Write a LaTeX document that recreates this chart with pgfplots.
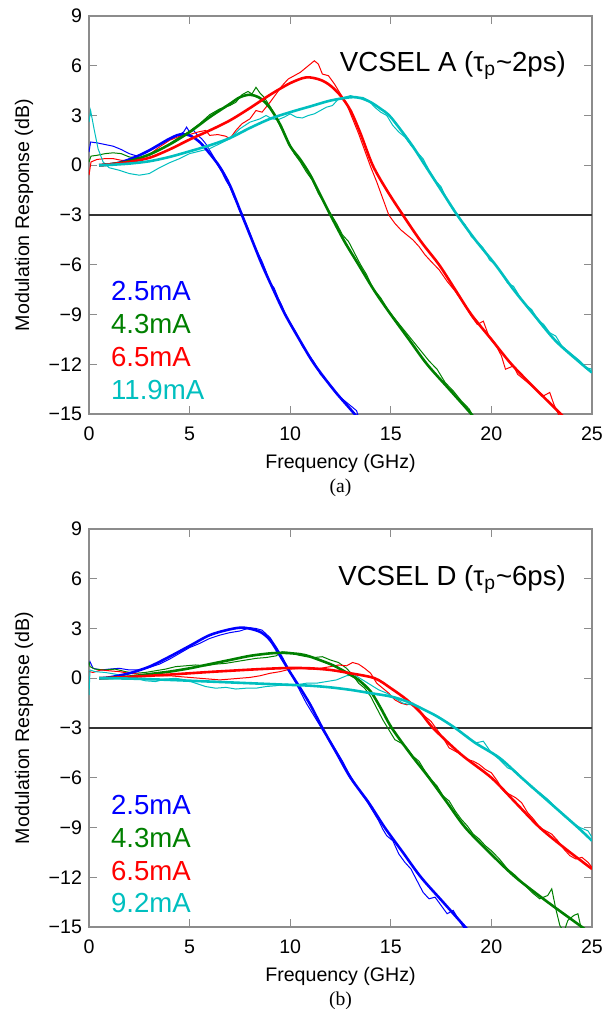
\documentclass[border=0pt]{standalone}
\usepackage{fontspec}
\setmainfont{Liberation Sans}
\newfontfamily\capfont{Liberation Serif}
\usepackage{pgfplots}
\pgfplotsset{compat=1.18}
\definecolor{mblue}{rgb}{0,0,1}
\definecolor{mgreen}{rgb}{0,0.5,0}
\definecolor{mred}{rgb}{1,0,0}
\definecolor{mcyan}{rgb}{0,0.75,0.75}
\tikzset{
  meas/.style={line width=0.5pt},
  fit/.style={line width=1.3pt},
  lab/.style={anchor=base west, inner sep=0pt, font=\fontsize{13.8}{16.5}\selectfont},
}
\pgfplotsset{
  myaxis/.style={
    scale only axis, width=251.5pt, height=199pt, anchor=south west,
    xmin=0, xmax=25, ymin=-15, ymax=9,
    xtick={0,5,10,15,20,25}, xticklabels={0,5,10,15,20,25},
    ytick={-15,-12,-9,-6,-3,0,3,6,9},
    yticklabels={−15,−12,−9,−6,−3,0,3,6,9},
    tick align=inside, tick pos=both,
    major tick length=4pt,
    axis line style={black!45, line width=0.6pt},
    tick style={black!45, line width=0.6pt},
    ticklabel style={font=\fontsize{9.8}{12}\selectfont},
    xticklabel style={yshift=-3pt},
    xlabel={Frequency (GHz)}, ylabel={Modulation Response (dB)},
    label style={font=\fontsize{9.8}{12}\selectfont},
    xlabel style={at={(axis description cs:0.5,-0.123)}, anchor=center},
    ylabel style={at={(axis description cs:-0.129,0.5)}, anchor=center},
    clip mode=individual,
  },
}
\newcommand{\lbl}{\fontsize{13.8}{16.5}\selectfont}
\begin{document}
\begin{tikzpicture}
\useasboundingbox (0,0) rectangle (304pt,504.5pt);
% ---------------- (a) VCSEL A ----------------
\begin{axis}[myaxis, at={(44.5pt,297.5pt)}]
\addplot[black!80, line width=0.6pt] coordinates {(0,-3) (25,-3)};
% measured
\addplot[mblue, meas] coordinates {
(0,0.8)(0.08,1.4)(0.4,1.35)(0.8,1.25)(1.2,1.15)(1.6,0.95)(2.0,0.7)(2.4,0.55)(2.8,0.75)(3.2,1.0)(3.6,1.3)(4.0,1.55)(4.4,1.8)(4.7,2.0)(4.85,2.3)(5.0,2.0)(5.2,2.1)(5.4,1.8)(5.6,1.6)(5.8,1.3)(6.0,0.9)(6.2,0.5)(6.4,0.0)(6.6,-0.4)(6.8,-0.9)(7.0,-1.3)(7.2,-1.9)(7.4,-2.4)(7.6,-2.9)(7.8,-3.5)(8.0,-4.1)(8.2,-4.8)(8.4,-5.3)(8.6,-5.8)(8.8,-6.4)(9.0,-7.1)(9.2,-7.4)(9.4,-8.0)(9.6,-8.5)(9.8,-9.1)(10.0,-9.5)(10.3,-10.1)(10.6,-10.9)(10.9,-11.4)(11.2,-11.9)(11.5,-12.6)(11.8,-13.0)(12.1,-13.4)(12.4,-13.9)(12.7,-14.2)(12.9,-14.4)(13.1,-14.6)(13.3,-14.8)(13.4,-15.2)};
\addplot[mgreen, meas] coordinates {
(0,0.2)(0.1,0.55)(0.4,0.6)(0.8,0.7)(1.2,0.75)(1.6,0.7)(2.0,0.5)(2.5,0.45)(3.0,0.6)(3.5,0.95)(4.0,1.3)(4.5,1.7)(5.0,2.05)(5.5,2.5)(6.0,3.05)(6.5,3.4)(7.0,3.6)(7.3,3.8)(7.6,4.25)(7.9,4.45)(8.1,4.3)(8.3,4.7)(8.5,4.35)(8.7,4.1)(9.0,3.55)(9.3,2.9)(9.6,2.1)(9.9,1.4)(10.2,0.7)(10.5,0.2)(10.8,-0.4)(11.1,-0.9)(11.4,-1.7)(11.7,-2.3)(12.0,-2.9)(12.3,-3.5)(12.6,-4.2)(12.9,-4.6)(13.2,-5.3)(13.5,-6.0)(13.8,-6.6)(14.1,-7.4)(14.5,-8.0)(14.9,-8.8)(15.3,-9.4)(15.7,-10.0)(16.1,-10.6)(16.5,-11.2)(16.9,-11.8)(17.3,-12.3)(17.7,-13.1)(18.1,-13.6)(18.5,-14.2)(18.9,-14.7)(19.1,-15.2)};
\addplot[mred, meas] coordinates {
(0,-0.6)(0.1,0.2)(0.4,0.35)(0.8,0.4)(1.2,0.4)(1.6,0.3)(2.0,0.3)(2.5,0.4)(3.0,0.65)(3.5,1.1)(4.0,1.5)(4.5,1.75)(5.0,1.85)(5.4,2.0)(5.8,2.1)(6.0,1.8)(6.4,1.85)(6.8,1.75)(7.0,1.6)(7.3,2.1)(7.6,2.5)(8.0,2.8)(8.3,3.3)(8.6,3.2)(9.0,3.8)(9.3,4.3)(9.6,4.8)(9.9,5.2)(10.2,5.4)(10.5,5.6)(10.8,5.9)(11.0,6.1)(11.2,6.3)(11.4,6.1)(11.6,5.5)(11.9,5.4)(12.2,4.9)(12.5,4.3)(12.8,3.7)(13.1,2.8)(13.4,1.9)(13.7,0.9)(14.0,-0.1)(14.3,-1.0)(14.6,-2.0)(14.9,-3.0)(15.2,-3.5)(15.5,-3.9)(15.8,-4.2)(16.1,-4.5)(16.4,-4.9)(16.7,-5.4)(17.0,-5.8)(17.4,-6.3)(17.8,-7.0)(18.2,-7.6)(18.6,-8.3)(19.0,-9.1)(19.3,-9.6)(19.6,-9.4)(19.9,-10.4)(20.2,-10.8)(20.5,-11.5)(20.7,-12.3)(20.9,-12.2)(21.1,-12.1)(21.3,-12.6)(21.6,-12.9)(21.9,-13.2)(22.3,-13.6)(22.6,-13.9)(22.9,-13.7)(23.1,-14.4)(23.4,-15.2)};
\addplot[mcyan, meas] coordinates {
(0,2.6)(0.08,3.3)(0.25,2.2)(0.45,1.0)(0.7,0.2)(1.0,-0.15)(1.5,-0.3)(2.0,-0.5)(2.5,-0.6)(3.0,-0.5)(3.5,-0.15)(4.0,0.15)(4.5,0.4)(5.0,0.7)(5.5,0.85)(6.0,1.0)(6.5,1.3)(7.0,1.6)(7.5,2.2)(8.0,2.6)(8.5,2.8)(8.8,3.0)(9.1,2.8)(9.4,2.75)(9.7,2.9)(10.0,3.1)(10.3,2.9)(10.6,2.85)(10.9,3.0)(11.2,3.1)(11.5,3.3)(11.8,3.5)(12.1,3.6)(12.4,4.0)(12.7,4.1)(13.0,4.2)(13.3,4.1)(13.6,4.1)(13.9,3.9)(14.2,3.5)(14.5,3.2)(14.8,3.0)(15.1,2.4)(15.4,2.0)(15.7,1.7)(16.0,1.2)(16.3,0.8)(16.6,0.4)(16.9,-0.3)(17.2,-0.9)(17.5,-1.3)(17.8,-2.1)(18.1,-2.7)(18.4,-3.2)(18.7,-3.6)(19.0,-4.3)(19.3,-4.6)(19.6,-5.0)(19.9,-5.7)(20.2,-6.0)(20.5,-6.5)(20.8,-7.1)(21.1,-7.3)(21.4,-7.9)(21.7,-8.4)(22.0,-8.7)(22.3,-9.3)(22.6,-9.6)(22.9,-10.1)(23.2,-10.3)(23.5,-10.9)(23.8,-11.2)(24.1,-11.5)(24.4,-11.8)(24.7,-12.2)(25.0,-12.3)};
% fits
\addplot[mblue, fit, smooth] coordinates {
(0.5,0)(1,0.05)(1.5,0.15)(2,0.35)(2.5,0.6)(3,0.9)(3.5,1.25)(4,1.6)(4.5,1.85)(5,1.8)(5.5,1.4)(6,0.7)(6.5,-0.1)(7,-1.2)(7.6,-3)(8.1,-4.5)(8.6,-6)(9.2,-7.6)(9.75,-9)(10.5,-10.6)(11.2,-12)(12.2,-13.6)(13.2,-15)(13.5,-15.5)};
\addplot[mgreen, fit, smooth] coordinates {
(0.5,0)(1,0.05)(2,0.25)(3,0.65)(4,1.25)(5,2.0)(6,2.9)(7,3.7)(7.5,4.1)(8,4.25)(8.5,4.05)(9,3.45)(9.5,2.45)(10,1.15)(10.5,0.35)(11,-0.6)(11.5,-1.8)(12,-3)(12.7,-4.6)(13.4,-6)(14.2,-7.6)(15,-9)(15.9,-10.5)(16.8,-12)(17.9,-13.5)(19,-15)(19.3,-15.5)};
\addplot[mred, fit, smooth] coordinates {
(0.5,0)(1,0.05)(2,0.2)(3,0.45)(4,0.95)(5,1.55)(6,2.1)(7,2.7)(8,3.45)(9,4.25)(10,4.95)(10.8,5.3)(11.5,5.15)(12,4.8)(12.5,4.2)(13,3.3)(13.5,1.9)(14.1,0)(14.8,-1.5)(15.6,-3)(16.5,-4.6)(17.4,-6)(18.2,-7.5)(19,-9)(20,-10.5)(21,-12)(22.2,-13.5)(23.45,-15)(23.8,-15.5)};
\addplot[mcyan, fit, smooth] coordinates {
(0.5,0)(1,0.02)(2,0.1)(3,0.24)(4,0.5)(5,0.84)(6,1.2)(7,1.64)(8,2.25)(9,2.8)(10,3.2)(11,3.55)(12,3.9)(13,4.1)(13.5,4.05)(14,3.8)(14.5,3.4)(15,2.9)(16,1.3)(16.7,0)(17.5,-1.5)(18.3,-3)(19.2,-4.5)(20.2,-6)(21.1,-7.5)(22.1,-9)(23.2,-10.6)(24.5,-12)(25,-12.5)};
\node[anchor=base east, font=\lbl] at (axis cs:24.05,5.68) {VCSEL A (τ\textsubscript{p}\textasciitilde2ps)};
\node[lab, text=mblue] at (axis cs:1.08,-8.13) {2.5mA};
\node[lab, text=mgreen] at (axis cs:1.08,-10.14) {4.3mA};
\node[lab, text=mred] at (axis cs:1.08,-12.15) {6.5mA};
\node[lab, text=mcyan] at (axis cs:1.08,-14.1) {11.9mA};
\node[font=\capfont\fontsize{9.8}{12}\selectfont] at (axis description cs:0.5,-0.186) {(a)};
\end{axis}
% ---------------- (b) VCSEL D ----------------
\begin{axis}[myaxis, at={(44.5pt,41pt)}]
\addplot[black!80, line width=0.6pt] coordinates {(0,-3) (25,-3)};
\addplot[mblue, meas] coordinates {
(0,0.8)(0.05,1.0)(0.2,0.6)(0.6,0.5)(1.0,0.55)(1.5,0.6)(2.0,0.5)(2.5,0.5)(3.0,0.65)(3.5,0.85)(4.0,1.15)(4.5,1.5)(5.0,1.85)(5.5,2.1)(6.0,2.4)(6.5,2.6)(7.0,2.75)(7.5,2.85)(8.0,3.05)(8.3,3.0)(8.6,2.9)(9.0,2.45)(9.3,1.9)(9.6,1.3)(9.9,0.6)(10.2,-0.1)(10.5,-0.8)(10.8,-1.5)(11.1,-2.1)(11.4,-2.7)(11.7,-3.3)(12.0,-3.8)(12.3,-4.4)(12.6,-5.0)(12.9,-5.7)(13.2,-6.3)(13.5,-6.9)(13.8,-7.4)(14.1,-8.0)(14.4,-8.6)(14.6,-9.1)(14.8,-9.5)(15.1,-9.8)(15.4,-10.6)(15.7,-11.1)(16.0,-11.5)(16.3,-12.2)(16.6,-12.9)(16.9,-13.3)(17.2,-13.2)(17.5,-13.7)(17.8,-14.2)(18.1,-14.0)(18.4,-14.6)(18.7,-15.2)};
\addplot[mgreen, meas] coordinates {
(0,1.0)(0.05,0.7)(0.3,0.55)(0.8,0.5)(1.3,0.55)(1.8,0.4)(2.3,0.3)(2.8,0.35)(3.3,0.45)(3.8,0.55)(4.3,0.7)(4.8,0.75)(5.3,0.8)(5.8,0.75)(6.3,0.85)(6.8,0.9)(7.3,1.0)(7.8,1.1)(8.3,1.2)(8.8,1.25)(9.3,1.35)(9.6,1.6)(10.0,1.55)(10.4,1.4)(10.8,1.3)(11.2,1.25)(11.6,1.3)(12.0,1.1)(12.4,0.95)(12.8,0.6)(13.1,0.2)(13.4,-0.3)(13.7,-0.6)(14.0,-1.1)(14.3,-1.8)(14.6,-2.5)(14.9,-3.1)(15.2,-3.7)(15.5,-3.9)(15.8,-4.2)(16.1,-4.7)(16.4,-5.0)(16.7,-5.6)(17.0,-6.1)(17.3,-6.5)(17.6,-7.1)(17.9,-7.4)(18.2,-8.0)(18.5,-8.5)(18.8,-8.9)(19.1,-9.4)(19.4,-9.7)(19.7,-10.1)(20.0,-10.4)(20.4,-10.9)(20.8,-11.5)(21.2,-11.9)(21.6,-12.4)(22.0,-12.9)(22.4,-13.3)(22.8,-13.1)(23.0,-12.7)(23.2,-13.9)(23.4,-14.9)(23.6,-15.3)(23.8,-14.6)(24.1,-14.3)(24.3,-14.2)(24.5,-15.3)};
\addplot[mred, meas] coordinates {
(0,0.4)(0.2,0.35)(0.6,0.5)(1.0,0.45)(1.5,0.4)(2.0,0.3)(2.5,0.25)(3.0,0.2)(3.5,0.15)(4.0,0.15)(4.5,0.1)(5.0,0.05)(5.5,0.0)(6.0,-0.05)(6.5,-0.1)(7.0,-0.05)(7.5,0.0)(8.0,0.05)(8.5,0.15)(9.0,0.3)(9.5,0.4)(10.0,0.55)(10.5,0.6)(11.0,0.55)(11.5,0.6)(12.0,0.7)(12.4,0.8)(12.8,0.75)(13.1,0.95)(13.4,0.85)(13.7,0.6)(14.0,0.3)(14.3,-0.3)(14.6,-0.6)(14.9,-0.9)(15.2,-1.3)(15.5,-1.5)(15.8,-1.6)(16.1,-1.5)(16.4,-1.9)(16.7,-2.3)(17.0,-2.6)(17.3,-3.1)(17.6,-3.6)(17.9,-4.2)(18.2,-4.4)(18.5,-4.6)(18.8,-4.9)(19.1,-5.0)(19.4,-5.2)(19.7,-5.5)(20.0,-5.7)(20.3,-6.2)(20.6,-6.8)(20.9,-7.0)(21.2,-7.2)(21.5,-7.5)(21.8,-8.1)(22.1,-8.5)(22.4,-9.0)(22.7,-9.2)(23.0,-9.4)(23.3,-9.8)(23.6,-10.3)(23.9,-10.7)(24.2,-10.9)(24.5,-10.8)(24.8,-11.1)(25.0,-11.4)};
\addplot[mcyan, meas] coordinates {
(0,-1.0)(0.05,0.5)(0.3,0.4)(0.8,0.35)(1.3,0.25)(1.8,0.1)(2.3,0.0)(2.8,-0.15)(3.3,-0.2)(3.8,-0.05)(4.3,0.0)(4.8,-0.1)(5.3,-0.3)(5.8,-0.5)(6.3,-0.6)(6.8,-0.55)(7.3,-0.65)(7.8,-0.6)(8.3,-0.6)(8.8,-0.5)(9.3,-0.45)(9.8,-0.35)(10.3,-0.4)(10.8,-0.3)(11.3,-0.3)(11.8,-0.2)(12.3,-0.1)(12.8,0.15)(13.2,0.2)(13.6,-0.1)(14.0,-0.4)(14.4,-0.7)(14.8,-0.9)(15.2,-1.2)(15.6,-1.5)(16.0,-1.6)(16.4,-1.7)(16.8,-2.0)(17.2,-2.2)(17.6,-2.5)(18.0,-2.8)(18.4,-3.2)(18.8,-3.5)(19.2,-3.9)(19.6,-3.8)(20.0,-4.5)(20.4,-4.9)(20.8,-5.4)(21.2,-5.6)(21.6,-6.1)(22.0,-6.6)(22.4,-6.9)(22.8,-7.3)(23.2,-7.8)(23.6,-8.3)(24.0,-8.7)(24.4,-9.0)(24.8,-9.2)(25.0,-9.6)};
\addplot[mblue, fit, smooth] coordinates {
(0.5,0)(1,0.05)(2,0.3)(3,0.7)(4,1.3)(5,1.95)(6,2.6)(7,2.95)(7.7,3.05)(8.5,2.8)(9,2.3)(9.5,1.35)(10,0.35)(10.5,-0.6)(11,-1.6)(11.6,-3)(12.3,-4.5)(13,-6)(13.9,-7.5)(14.7,-9)(15.6,-10.5)(16.5,-12)(17.6,-13.5)(18.7,-15)(19,-15.4)};
\addplot[mgreen, fit, smooth] coordinates {
(0.5,0)(1,0.02)(2,0.1)(3,0.25)(4,0.4)(5,0.6)(6,0.85)(7,1.1)(8,1.35)(9,1.5)(9.7,1.53)(10.5,1.45)(11,1.3)(12,0.85)(12.5,0.55)(13,0.2)(13.4,-0.1)(14,-0.8)(14.5,-1.8)(15.05,-3)(16,-4.6)(16.9,-6)(17.8,-7.5)(18.7,-9)(19.9,-10.5)(21.2,-12)(22.8,-13.5)(24.5,-15)(24.8,-15.3)};
\addplot[mred, fit, smooth] coordinates {
(0.5,0)(1,0.02)(2,0.08)(3,0.15)(4,0.22)(5,0.3)(6,0.38)(7,0.45)(8,0.52)(9,0.58)(10,0.62)(11,0.6)(12,0.5)(13,0.3)(14.2,0)(15,-0.6)(15.8,-1.3)(16.5,-2.1)(17.1,-3)(18.5,-4.6)(20,-6)(21.2,-7.5)(22.4,-9)(23.7,-10.3)(25,-11.5)};
\addplot[mcyan, fit, smooth] coordinates {
(0.5,0)(2,-0.02)(4,-0.1)(6,-0.2)(8,-0.3)(10,-0.4)(11,-0.45)(12,-0.55)(13,-0.7)(14,-0.9)(15,-1.1)(15.8,-1.4)(16.5,-1.8)(17.3,-2.3)(18.2,-3)(19.2,-3.9)(20.4,-4.8)(21.5,-6)(22.9,-7.5)(24.3,-9)(25,-9.8)};
\node[anchor=base east, font=\lbl] at (axis cs:24.05,5.62) {VCSEL D (τ\textsubscript{p}\textasciitilde6ps)};
\node[lab, text=mblue] at (axis cs:1.08,-8.2) {2.5mA};
\node[lab, text=mgreen] at (axis cs:1.08,-10.2) {4.3mA};
\node[lab, text=mred] at (axis cs:1.08,-12.2) {6.5mA};
\node[lab, text=mcyan] at (axis cs:1.08,-14.15) {9.2mA};
\node[font=\capfont\fontsize{9.8}{12}\selectfont] at (axis description cs:0.5,-0.186) {(b)};
\end{axis}
\end{tikzpicture}
\end{document}
